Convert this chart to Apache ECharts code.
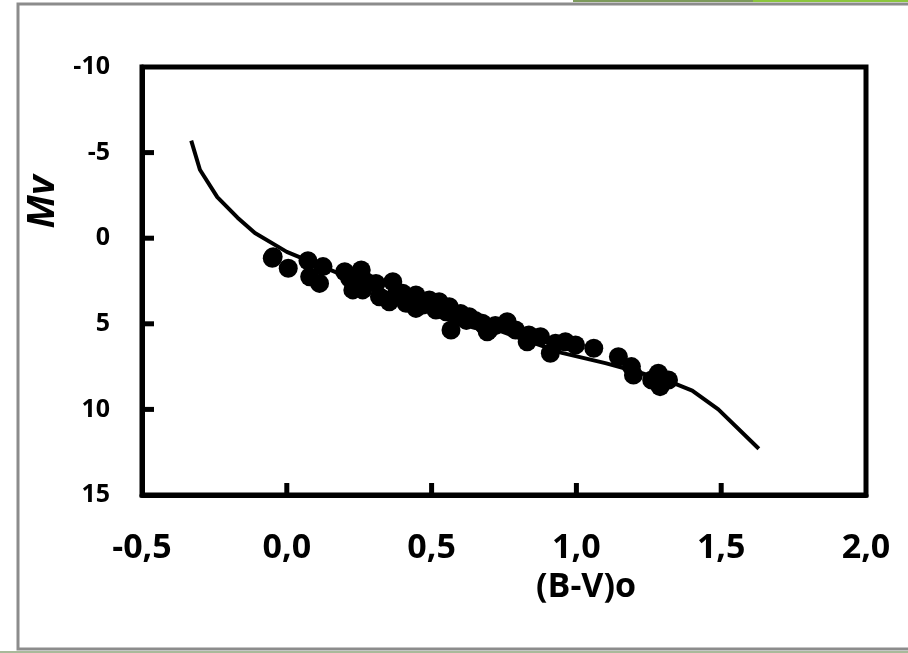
<!DOCTYPE html>
<html>
<head>
<meta charset="utf-8">
<script src="https://cdn.jsdelivr.net/npm/echarts@6/dist/echarts.min.js"></script>
<style>
  html, body { margin: 0; padding: 0; background: #fff; }
  #chart { width: 908px; height: 653px; }
</style>
</head>
<body>
<div id="chart"></div>
<script>
// ZAMS curve, (B-V)o vs Mv
const curveBV = [-0.33, -0.30, -0.24, -0.17, -0.11, 0.00, 0.10, 0.20, 0.30, 0.40, 0.50, 0.60, 0.70, 0.80, 0.95, 1.10, 1.21, 1.34, 1.40, 1.49, 1.63];
const curveMv = [-5.7, -4.0, -2.4, -1.2, -0.3, 0.8, 1.5, 2.2, 2.9, 3.5, 4.1, 4.7, 5.2, 5.8, 6.7, 7.3, 7.8, 8.5, 8.9, 10.0, 12.3];

// cluster stars
const starBV = [-0.05, -0.047, 0.005, 0.073, 0.079, 0.125, 0.113, 0.20, 0.217, 0.257, 0.228, 0.262, 0.27, 0.308, 0.32, 0.366, 0.354, 0.38, 0.40, 0.412, 0.43, 0.446, 0.446, 0.47, 0.492, 0.515, 0.526, 0.55, 0.561, 0.567, 0.59, 0.60, 0.62, 0.63, 0.65, 0.675, 0.681, 0.692, 0.698, 0.72, 0.761, 0.79, 0.83, 0.836, 0.876, 0.91, 0.928, 0.962, 0.997, 1.06, 1.145, 1.19, 1.197, 1.26, 1.283, 1.289, 1.318];
const starMv = [1.17, 1.08, 1.76, 1.32, 2.25, 1.66, 2.64, 1.96, 2.34, 1.86, 3.02, 3.02, 2.5, 2.64, 3.42, 2.54, 3.71, 3.2, 3.22, 3.8, 3.6, 3.32, 4.1, 3.9, 3.61, 4.19, 3.71, 4.3, 4.0, 5.36, 4.59, 4.4, 4.8, 4.59, 4.8, 4.97, 5.07, 5.46, 5.36, 5.1, 4.88, 5.36, 6.05, 5.65, 5.75, 6.72, 6.14, 6.05, 6.24, 6.43, 6.92, 7.5, 7.99, 8.28, 7.89, 8.67, 8.28];

const xTicks = [-0.5, 0.0, 0.5, 1.0, 1.5, 2.0];
const yTicks = [-10, -5, 0, 5, 10, 15];

const font = '"Open Sans", "DejaVu Sans", sans-serif';
const xMin = xTicks[0], xMax = xTicks[xTicks.length - 1];
const yMin = yTicks[0], yMax = yTicks[yTicks.length - 1];

// tick marks pointing into the plot, placed through the axes
const tickLen = 12, tickW = 5;
const bottomTick = (params, api) => {
    const p = api.coord([api.value(0), api.value(1)]);
    return { type: 'rect', shape: { x: p[0] - tickW / 2, y: p[1] - tickLen, width: tickW, height: tickLen }, style: { fill: '#000' } };
};
const leftTick = (params, api) => {
    const p = api.coord([api.value(0), api.value(1)]);
    return { type: 'rect', shape: { x: p[0], y: p[1] - tickW / 2, width: tickLen, height: tickW }, style: { fill: '#000' } };
};

const chart = echarts.init(document.getElementById('chart'));

chart.setOption({
    backgroundColor: '#ffffff',
    animation: false,
    graphic: [
        { type: 'rect', shape: { x: 18, y: 4, width: 1000, height: 645 }, style: { fill: 'none', stroke: '#8c8c8c', lineWidth: 3 } },
        { type: 'rect', shape: { x: 573, y: 0, width: 180, height: 2 }, style: { fill: '#7d9a5c' } },
        { type: 'rect', shape: { x: 753, y: 0, width: 155, height: 2 }, style: { fill: '#8cc63e' } },
        { type: 'rect', shape: { x: 0, y: 651, width: 908, height: 2 }, style: { fill: '#a9b99a' } }
    ],
    grid: {
        left: 142, right: 42, top: 67, bottom: 158,
        show: true, borderColor: '#000', borderWidth: 5
    },
    xAxis: {
        type: 'value',
        min: xMin, max: xMax, interval: 0.5,
        name: '(B-V)o',
        nameLocation: 'middle',
        nameGap: 74,
        nameTextStyle: { fontFamily: font, fontWeight: 'bold', fontSize: 34, color: '#000', padding: [0, 0, 0, 164] },
        axisLine: { show: true, onZero: false, lineStyle: { color: '#000', width: 5 } },
        axisTick: { show: false },
        splitLine: { show: false },
        axisLabel: {
            margin: 36,
            fontFamily: font, fontWeight: 'bold', fontSize: 34, color: '#000',
            formatter: v => v.toFixed(1).replace('.', ',')
        }
    },
    yAxis: {
        type: 'value',
        inverse: true,
        min: yMin, max: yMax, interval: 5,
        name: 'Mv',
        nameLocation: 'middle',
        nameRotate: 90,
        nameGap: 56,
        nameTextStyle: { fontFamily: font, fontWeight: 'bold', fontStyle: 'italic', fontSize: 38, color: '#000', padding: [0, 0, 0, 158] },
        axisLine: { show: true, onZero: false, lineStyle: { color: '#000', width: 5 } },
        axisTick: { show: false },
        splitLine: { show: false },
        axisLabel: {
            margin: 32,
            fontFamily: font, fontWeight: 'bold', fontSize: 25, color: '#000'
        }
    },
    series: [
        {
            type: 'custom',
            silent: true,
            clip: false,
            renderItem: bottomTick,
            data: xTicks.slice(1, -1).map(x => [x, yMax]),
            z: 4
        },
        {
            type: 'custom',
            silent: true,
            clip: false,
            renderItem: leftTick,
            data: yTicks.slice(1, -1).map(y => [xMin, y]),
            z: 4
        },
        {
            type: 'line',
            data: curveBV.map((x, i) => [x, curveMv[i]]),
            showSymbol: false,
            smooth: false,
            lineStyle: { color: '#000', width: 4 },
            z: 2
        },
        {
            type: 'scatter',
            data: starBV.map((x, i) => [x, starMv[i]]),
            symbol: 'circle',
            symbolSize: 19,
            itemStyle: { color: '#000', opacity: 1 },
            z: 3
        }
    ]
});
</script>
</body>
</html>
